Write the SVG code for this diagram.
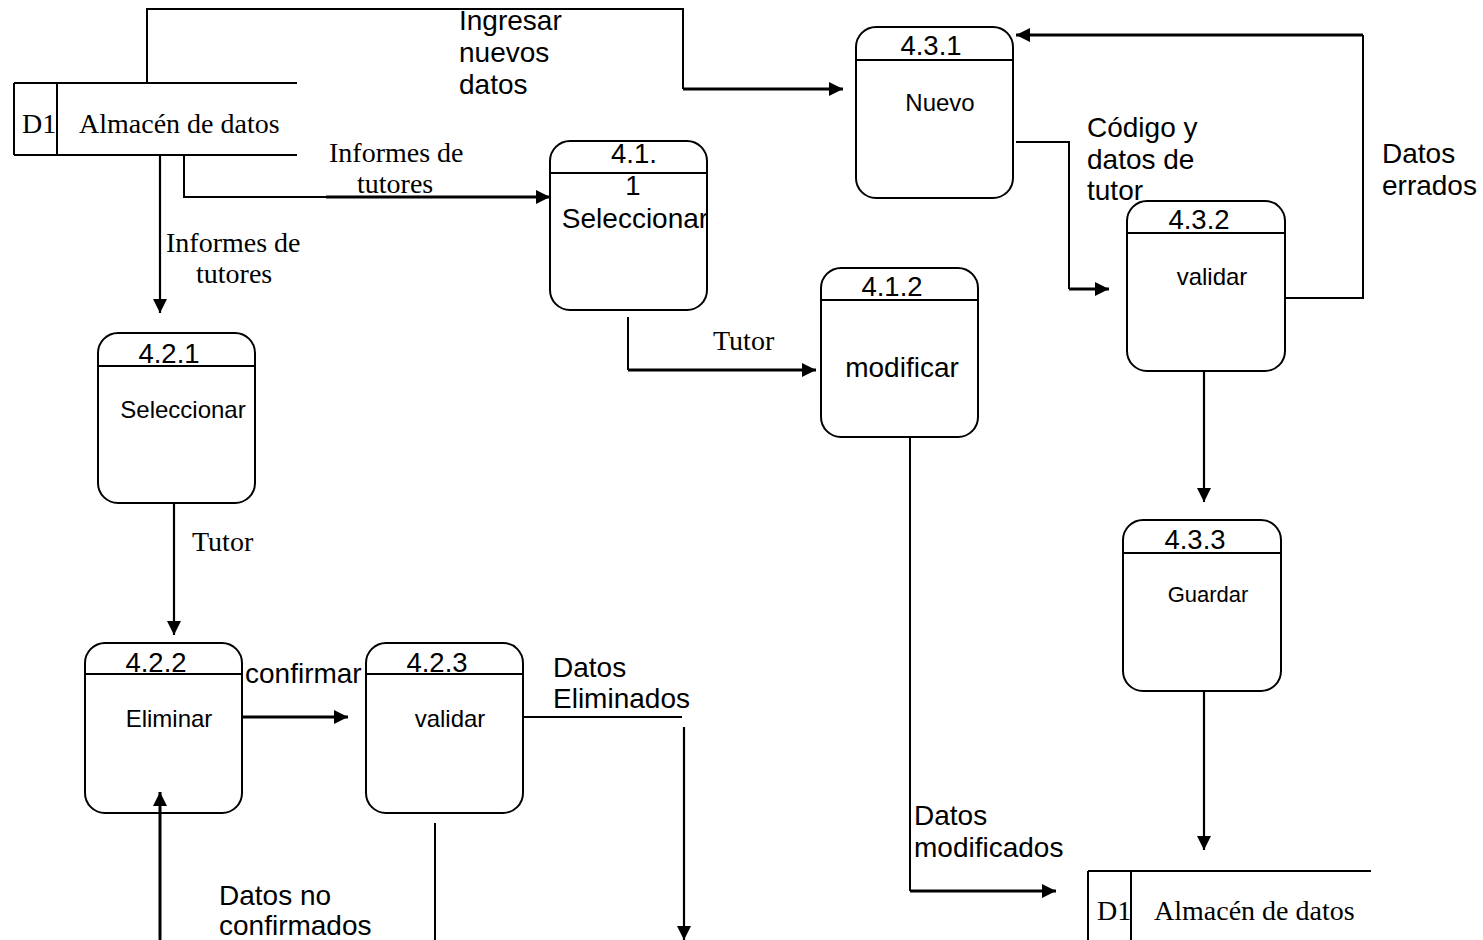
<svg xmlns="http://www.w3.org/2000/svg" width="1483" height="940" viewBox="0 0 1483 940">
<defs>
<marker id="ah" markerUnits="userSpaceOnUse" markerWidth="16" markerHeight="16" refX="14" refY="7" orient="auto">
<path d="M0,0 L14,7 L0,14 z" fill="#000"/>
</marker>
<style>
.box{fill:#fff;stroke:#000;stroke-width:2}
.ln{fill:none;stroke:#000;stroke-width:2}
.ar{fill:none;stroke:#000;stroke-width:2.2;marker-end:url(#ah)}
.ak{fill:none;stroke:#000;stroke-width:3;marker-end:url(#ah)}
.num{font-family:"Liberation Sans",Arial,sans-serif;font-size:27.5px;text-anchor:middle}
.in{font-family:"Liberation Sans",Arial,sans-serif;font-size:24px;text-anchor:middle}
.inb{font-family:"Liberation Sans",Arial,sans-serif;font-size:28px;text-anchor:middle}
.lb{font-family:"Liberation Sans",Arial,sans-serif;font-size:28px}
.tm{font-family:"Liberation Serif","Times New Roman",serif;font-size:28px}
</style>
</defs>
<rect width="1483" height="940" fill="#fff"/>

<g id="store-top">
<line class="ln" x1="14" y1="83" x2="297" y2="83"/>
<line class="ln" x1="14" y1="155" x2="297" y2="155"/>
<line class="ln" x1="14" y1="83" x2="14" y2="155"/>
<line class="ln" x1="57" y1="83" x2="57" y2="155"/>
<text class="tm" x="22" y="133">D1</text>
<text class="tm" x="79" y="133">Almacén de datos</text>
</g>

<g id="store-bottom">
<line class="ln" x1="1088" y1="871" x2="1371" y2="871"/>
<line class="ln" x1="1088" y1="871" x2="1088" y2="940"/>
<line class="ln" x1="1131" y1="871" x2="1131" y2="940"/>
<text class="tm" x="1097" y="920">D1</text>
<text class="tm" x="1154" y="920">Almacén de datos</text>
</g>

<g id="p431">
<rect class="box" x="856" y="27" width="157" height="171" rx="20"/>
<line class="ln" x1="856" y1="60" x2="1013" y2="60"/>
<text class="num" x="931" y="55">4.3.1</text>
<text class="in" x="940" y="111">Nuevo</text>
</g>

<g id="p432">
<rect class="box" x="1127" y="201" width="158" height="170" rx="20"/>
<line class="ln" x1="1127" y1="233" x2="1285" y2="233"/>
<text class="num" x="1199" y="229">4.3.2</text>
<text class="in" x="1212" y="285">validar</text>
</g>

<g id="p433">
<rect class="box" x="1123" y="520" width="158" height="171" rx="20"/>
<line class="ln" x1="1123" y1="553" x2="1281" y2="553"/>
<text class="num" x="1195" y="549">4.3.3</text>
<text class="in" x="1208" y="602" style="font-size:22px">Guardar</text>
</g>

<g id="p411">
<rect class="box" x="550" y="141" width="157" height="169" rx="20"/>
<line class="ln" x1="550" y1="173" x2="707" y2="173"/>
<text class="num" x="634" y="163">4.1.</text>
<text class="num" x="633" y="195">1</text>
<text class="inb" x="635" y="228">Seleccionar</text>
</g>

<g id="p412">
<rect class="box" x="821" y="268" width="157" height="169" rx="20"/>
<line class="ln" x1="821" y1="300" x2="978" y2="300"/>
<text class="num" x="892" y="296">4.1.2</text>
<text class="inb" x="902" y="377">modificar</text>
</g>

<g id="p421">
<rect class="box" x="98" y="333" width="157" height="170" rx="20"/>
<line class="ln" x1="98" y1="366" x2="255" y2="366"/>
<text class="num" x="169" y="363">4.2.1</text>
<text class="in" x="183" y="418">Seleccionar</text>
</g>

<g id="p422">
<rect class="box" x="85" y="643" width="157" height="170" rx="20"/>
<line class="ln" x1="85" y1="674" x2="242" y2="674"/>
<text class="num" x="156" y="672">4.2.2</text>
<text class="in" x="169" y="727">Eliminar</text>
</g>

<g id="p423">
<rect class="box" x="366" y="643" width="157" height="170" rx="20"/>
<line class="ln" x1="366" y1="674" x2="523" y2="674"/>
<text class="num" x="437" y="672">4.2.3</text>
<text class="in" x="450" y="727">validar</text>
</g>

<g id="connectors">
<polyline class="ln" points="147,83 147,9 683,9 683,89"/>
<line class="ak" x1="683" y1="89" x2="843" y2="89"/>
<polyline class="ln" points="184,155 184,197 326,197"/>
<line class="ak" x1="326" y1="197" x2="550" y2="197"/>
<line class="ar" x1="160" y1="155" x2="160" y2="313"/>
<line class="ln" x1="628" y1="317" x2="628" y2="370"/>
<line class="ak" x1="628" y1="370" x2="816" y2="370"/>
<polyline class="ln" points="1016,142 1069,142 1069,289"/>
<line class="ak" x1="1069" y1="289" x2="1109" y2="289"/>
<polyline class="ln" points="1286,298 1363,298 1363,35"/>
<line class="ak" x1="1363" y1="35" x2="1016" y2="35"/>
<line class="ar" x1="1204" y1="371" x2="1204" y2="502"/>
<line class="ar" x1="1204" y1="691" x2="1204" y2="850"/>
<line class="ln" x1="910" y1="437" x2="910" y2="891"/>
<line class="ak" x1="910" y1="891" x2="1056" y2="891"/>
<line class="ar" x1="174" y1="503" x2="174" y2="635"/>
<line class="ak" x1="242" y1="717" x2="348" y2="717"/>
<line class="ln" x1="523" y1="717" x2="682" y2="717"/>
<line class="ar" x1="684" y1="727" x2="684" y2="940"/>
<line class="ln" x1="435" y1="823" x2="435" y2="940"/>
<line class="ak" x1="160" y1="940" x2="160" y2="792"/>
</g>

<g id="labels">
<text class="lb" x="459" y="30">Ingresar</text>
<text class="lb" x="459" y="62">nuevos</text>
<text class="lb" x="459" y="94">datos</text>
<text class="tm" x="329" y="162">Informes de</text>
<text class="tm" x="357" y="193">tutores</text>
<text class="tm" x="166" y="252">Informes de</text>
<text class="tm" x="196" y="283">tutores</text>
<text class="tm" x="713" y="350">Tutor</text>
<text class="tm" x="192" y="551">Tutor</text>
<text class="lb" x="1087" y="137">Código y</text>
<text class="lb" x="1087" y="169">datos de</text>
<text class="lb" x="1087" y="200">tutor</text>
<text class="lb" x="1382" y="163">Datos</text>
<text class="lb" x="1382" y="195">errados</text>
<text class="lb" x="914" y="825">Datos</text>
<text class="lb" x="914" y="857">modificados</text>
<text class="lb" x="245" y="683">confirmar</text>
<text class="lb" x="553" y="677">Datos</text>
<text class="lb" x="553" y="708">Eliminados</text>
<text class="lb" x="219" y="905">Datos no</text>
<text class="lb" x="219" y="935">confirmados</text>
</g>
</svg>
